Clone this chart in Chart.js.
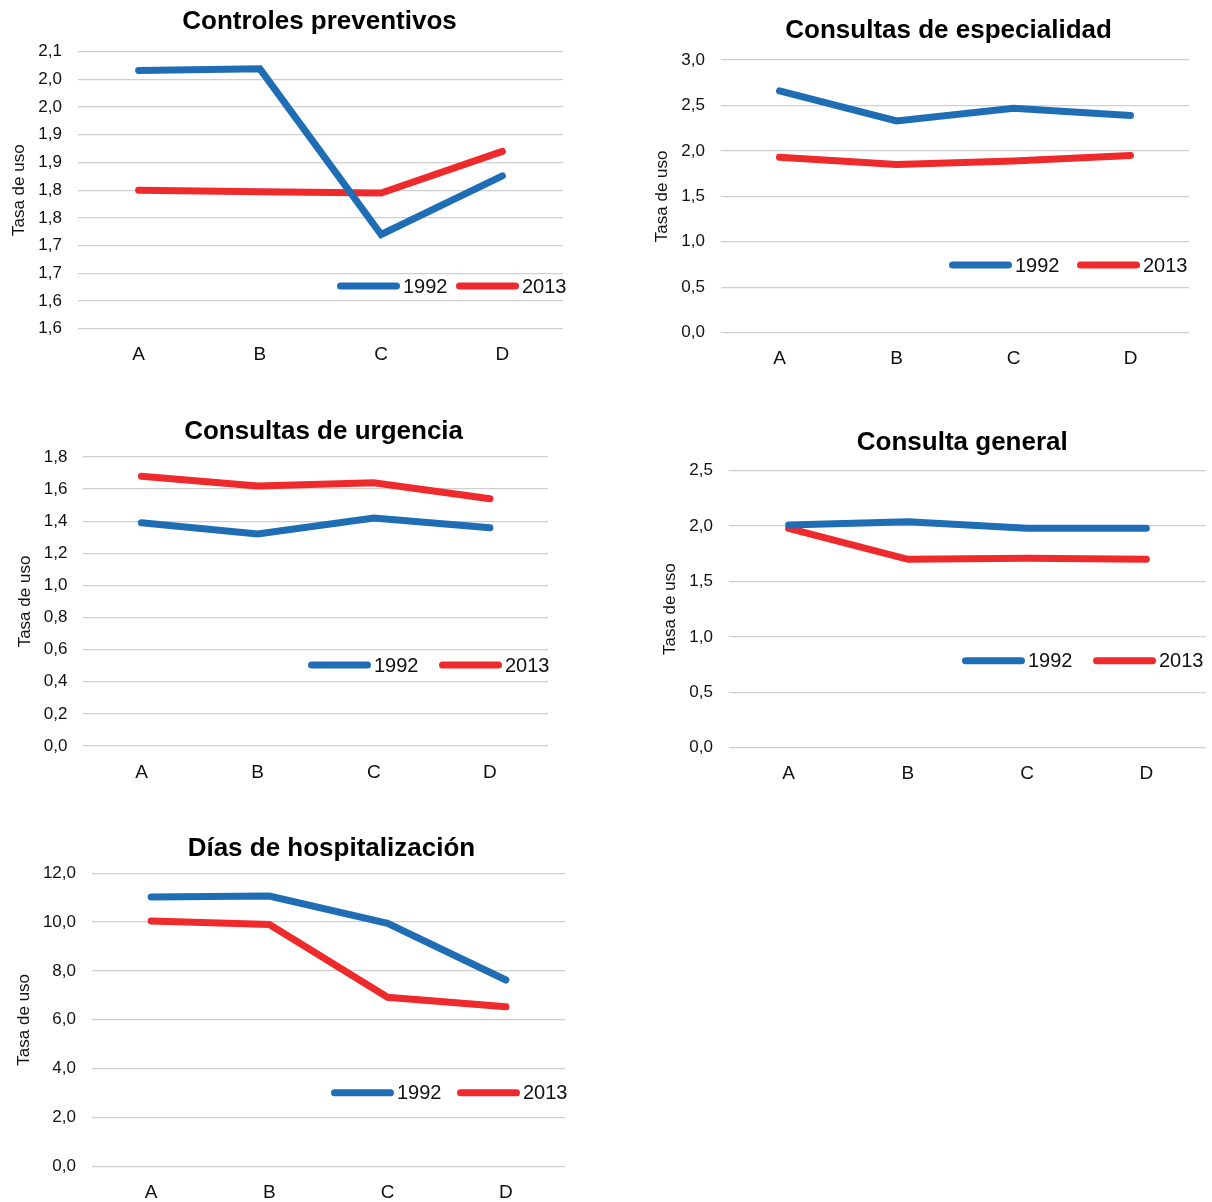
<!DOCTYPE html>
<html>
<head>
<meta charset="utf-8">
<title>Tasa de uso 1992 - 2013</title>
<script src="https://cdn.jsdelivr.net/npm/chart.js@4.4.1/dist/chart.umd.min.js"></script>
<style>
  html, body { margin: 0; padding: 0; background: #ffffff; }
  body { width: 1212px; height: 1202px; position: relative; overflow: hidden; }
  .panel { position: absolute; }
  .panel canvas { display: block; }
</style>
</head>
<body>
<div class="panel" id="p1"><canvas></canvas></div>
<div class="panel" id="p2"><canvas></canvas></div>
<div class="panel" id="p3"><canvas></canvas></div>
<div class="panel" id="p4"><canvas></canvas></div>
<div class="panel" id="p5"><canvas></canvas></div>
<script>
// ---- data ----
const categories = ['A', 'B', 'C', 'D'];
const seriesNames = ['1992', '2013'];
const seriesColors = ['#1f6db4', '#ee2a2c'];
const yAxisTitle = 'Tasa de uso';

const titles = [
  'Controles preventivos',
  'Consultas de especialidad',
  'Consultas de urgencia',
  'Consulta general',
  'Días de hospitalización'
];

const preventive1992 = [2.016, 2.019, 1.720, 1.826];
const preventive2013 = [1.800, 1.797, 1.795, 1.870];
const preventiveTicks = ['1,6', '1,6', '1,7', '1,7', '1,8', '1,8', '1,9', '1,9', '2,0', '2,0', '2,1'];

const specialist1992 = [2.66, 2.33, 2.47, 2.39];
const specialist2013 = [1.93, 1.85, 1.89, 1.95];
const specialistTicks = ['0,0', '0,5', '1,0', '1,5', '2,0', '2,5', '3,0'];

const emergency1992 = [1.39, 1.32, 1.42, 1.36];
const emergency2013 = [1.68, 1.62, 1.64, 1.54];
const emergencyTicks = ['0,0', '0,2', '0,4', '0,6', '0,8', '1,0', '1,2', '1,4', '1,6', '1,8'];

const general1992 = [2.01, 2.04, 1.98, 1.98];
const general2013 = [1.98, 1.70, 1.71, 1.70];
const generalTicks = ['0,0', '0,5', '1,0', '1,5', '2,0', '2,5'];

const hospital1992 = [11.03, 11.07, 9.95, 7.63];
const hospital2013 = [10.05, 9.90, 6.92, 6.53];
const hospitalTicks = ['0,0', '2,0', '4,0', '6,0', '8,0', '10,0', '12,0'];

// ---- page layout (page pixels) ----
const FONT = '"Liberation Sans", Arial, Helvetica, sans-serif';
const X_AXIS_H = 35;

const panels = [
  { id: 'p1', title: titles[0], series: [preventive1992, preventive2013],
    min: 1.55, max: 2.05, step: 0.05, tickLabels: preventiveTicks,
    box: { left: 0, top: 0, width: 600, height: 390 },
    area: { l: 78, r: 563, t: 51.7, b: 328.7 },
    titleX: 319.5, titleY: 29.3, yTitleX: 19,
    legendX: [337, 456], legendY: 286 },
  { id: 'p2', title: titles[1], series: [specialist1992, specialist2013],
    min: 0, max: 3, step: 0.5, tickLabels: specialistTicks,
    box: { left: 620, top: 0, width: 592, height: 395 },
    area: { l: 721, r: 1189, t: 60, b: 332.7 },
    titleX: 948.6, titleY: 38.3, yTitleX: 662,
    legendX: [949, 1077], legendY: 265 },
  { id: 'p3', title: titles[2], series: [emergency1992, emergency2013],
    min: 0, max: 1.8, step: 0.2, tickLabels: emergencyTicks,
    box: { left: 0, top: 400, width: 600, height: 400 },
    area: { l: 83.4, r: 548, t: 457, b: 746 },
    titleX: 323.6, titleY: 439.3, yTitleX: 25,
    legendX: [308, 439], legendY: 665 },
  { id: 'p4', title: titles[3], series: [general1992, general2013],
    min: 0, max: 2.5, step: 0.5, tickLabels: generalTicks,
    box: { left: 620, top: 400, width: 592, height: 400 },
    area: { l: 729, r: 1206, t: 470.7, b: 747.7 },
    titleX: 962.3, titleY: 450, yTitleX: 670.5,
    legendX: [962, 1093], legendY: 660.7 },
  { id: 'p5', title: titles[4], series: [hospital1992, hospital2013],
    min: 0, max: 12, step: 2, tickLabels: hospitalTicks,
    box: { left: 0, top: 810, width: 600, height: 392 },
    area: { l: 92, r: 565, t: 873.3, b: 1166.3 },
    titleX: 331.4, titleY: 856, yTitleX: 24.5,
    legendX: [331, 457], legendY: 1092.7 }
];

// ---- plugins ----
// Bold heading centred at a fixed point of the panel
const headingPlugin = {
  id: 'heading',
  afterDraw(chart, args, opts) {
    const ctx = chart.ctx;
    ctx.save();
    ctx.font = 'bold 26px ' + FONT;
    ctx.fillStyle = '#000000';
    ctx.textAlign = 'center';
    ctx.textBaseline = 'alphabetic';
    ctx.fillText(opts.text, opts.x, opts.y);
    ctx.restore();
  }
};

// Legend drawn inside the plot area: thick line sample followed by the series name
const inlineLegendPlugin = {
  id: 'inlineLegend',
  afterDraw(chart, args, opts) {
    const ctx = chart.ctx;
    ctx.save();
    chart.data.datasets.forEach((ds, i) => {
      const x0 = opts.xs[i];
      ctx.strokeStyle = ds.borderColor;
      ctx.lineWidth = 7;
      ctx.lineCap = 'round';
      ctx.beginPath();
      ctx.moveTo(x0 + 3.5, opts.y);
      ctx.lineTo(x0 + opts.lineLen - 3.5, opts.y);
      ctx.stroke();
      ctx.font = '20px ' + FONT;
      ctx.fillStyle = '#111111';
      ctx.textAlign = 'left';
      ctx.textBaseline = 'middle';
      ctx.fillText(ds.label, x0 + opts.lineLen + 3, opts.y + 1);
    });
    ctx.restore();
  }
};

function buildChart(spec) {
  const { box, area } = spec;
  const panel = document.getElementById(spec.id);
  panel.style.left = box.left + 'px';
  panel.style.top = box.top + 'px';
  panel.style.width = box.width + 'px';
  panel.style.height = box.height + 'px';
  const canvas = panel.querySelector('canvas');
  canvas.width = box.width;
  canvas.height = box.height;
  canvas.style.width = box.width + 'px';
  canvas.style.height = box.height + 'px';

  const yAxisW = area.l - box.left;

  return new Chart(canvas, {
    type: 'line',
    data: {
      labels: categories,
      datasets: spec.series.map((vals, i) => ({
        label: seriesNames[i],
        data: vals,
        borderColor: seriesColors[i],
        backgroundColor: seriesColors[i],
        borderWidth: 7,
        borderCapStyle: 'round',
        borderJoinStyle: 'miter',
        pointRadius: 0,
        pointHoverRadius: 0,
        tension: 0,
        fill: false
      }))
    },
    options: {
      responsive: false,
      animation: false,
      devicePixelRatio: 1,
      events: [],
      layout: {
        padding: {
          left: 0,
          top: area.t - box.top,
          right: box.left + box.width - area.r,
          bottom: Math.max(0, box.top + box.height - area.b - X_AXIS_H)
        }
      },
      plugins: {
        legend: { display: false },
        tooltip: { enabled: false },
        title: { display: false },
        heading: { text: spec.title, x: spec.titleX - box.left, y: spec.titleY - box.top },
        inlineLegend: { xs: spec.legendX.map(x => x - box.left), y: spec.legendY - box.top, lineLen: 63 }
      },
      scales: {
        x: {
          type: 'category',
          offset: true,
          grid: { display: false, drawTicks: false },
          border: { display: false },
          ticks: {
            color: '#111111',
            font: { family: FONT, size: 19 },
            padding: 15,
            maxRotation: 0,
            autoSkip: false
          },
          afterFit(scale) { scale.height = X_AXIS_H; }
        },
        y: {
          min: spec.min,
          max: spec.max,
          ticks: {
            stepSize: spec.step,
            color: '#111111',
            font: { family: FONT, size: 17 },
            padding: 16,
            callback: (value) => spec.tickLabels[Math.round((value - spec.min) / spec.step)]
          },
          grid: { color: '#cfcfcf', lineWidth: 1.3, drawTicks: false },
          border: { display: false },
          title: {
            display: true,
            text: yAxisTitle,
            color: '#111111',
            font: { family: FONT, size: 17 },
            padding: { top: spec.yTitleX - box.left - 10.2, bottom: 0 }
          },
          afterFit(scale) { scale.width = yAxisW; }
        }
      }
    },
    plugins: [headingPlugin, inlineLegendPlugin]
  });
}

panels.forEach(buildChart);
</script>
</body>
</html>
